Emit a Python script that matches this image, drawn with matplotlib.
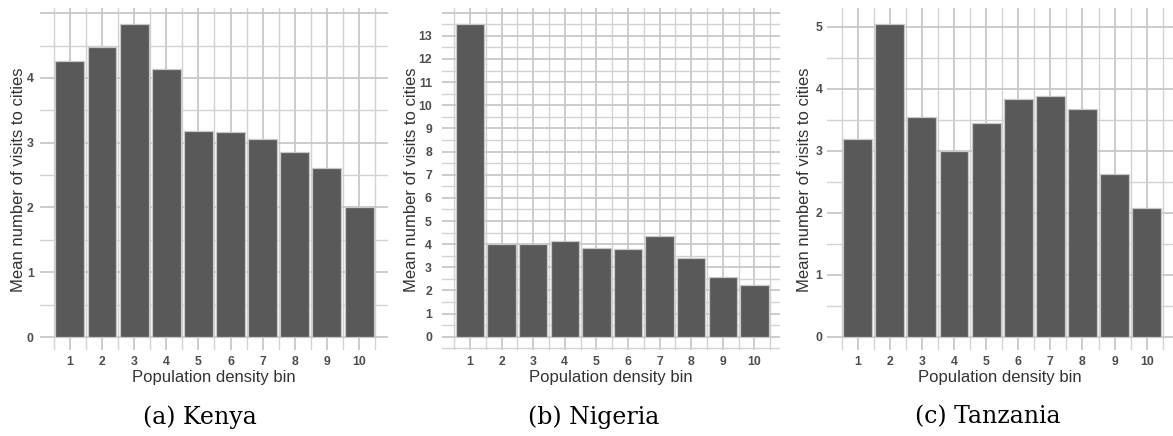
import numpy as np
import matplotlib
matplotlib.use("Agg")
import matplotlib.pyplot as plt

# mean number of visits to cities per population density bin
bins = list(range(1, 11))
kenya = [4.26, 4.48, 4.83, 4.14, 3.18, 3.17, 3.06, 2.86, 2.61, 2.01]
nigeria = [13.51, 4.02, 4.02, 4.12, 3.82, 3.79, 4.36, 3.41, 2.58, 2.23]
tanzania = [3.19, 5.04, 3.55, 2.99, 3.44, 3.84, 3.88, 3.67, 2.62, 2.08]
captions = ["(a) Kenya", "(b) Nigeria", "(c) Tanzania"]

W, H = 1173, 436
fig = plt.figure(figsize=(W / 100, H / 100), dpi=100)

# panel boxes in pixels: left, right, top, bottom
boxes = [(40, 388, 8, 350), (441.7, 780, 8, 350), (826.7, 1173, 8, 350)]
xlims = [(0.07, 10.9), (0.105, 10.81), (0.034, 10.82)]
ylims = [(-0.2, 5.08), (-0.57, 14.2), (-0.21, 5.3)]
ymax_tick = [4, 13, 5]
grid_top = [5, 14, 5]
ypads = [4.5, 7, 3]
ylab_x = [-0.063, -0.089, -0.063]
cap_x = [200, 594, 988]

for i, vals in enumerate([kenya, nigeria, tanzania]):
    l, r, t, b = boxes[i]
    ax = fig.add_axes([l / W, (H - b) / H, (r - l) / W, (b - t) / H])
    ax.set_axisbelow(True)

    # grid: majors at integers, minors at halves
    x0, x1 = xlims[i]
    y0, y1 = ylims[i]
    for x in np.arange(1, 11):
        ax.axvline(x, color="#c8c8c8", lw=1.3, zorder=0)
    for x in np.arange(0.5, 11, 1.0):
        ax.axvline(x, color="#d2d2d2", lw=1.0, zorder=0)
    for y in np.arange(0, grid_top[i] + 1):
        ax.axhline(y, color="#c8c8c8", lw=1.3, zorder=0)
    for y in np.arange(-0.5, grid_top[i], 1.0):
        ax.axhline(y, color="#d2d2d2", lw=1.0, zorder=0)

    ax.bar(bins, vals, width=0.9, color="#595959", edgecolor="#c8c8c8",
           linewidth=0.9, zorder=2)

    ax.set_xlim(x0, x1)
    ax.set_ylim(y0, y1)
    ax.set_xticks(bins)
    ax.set_yticks(range(0, ymax_tick[i] + 1))
    ax.tick_params(length=0, labelsize=8.8, labelcolor="#4d4d4d")
    ax.tick_params(axis="y", pad=ypads[i])
    ax.tick_params(axis="x", pad=4)
    for lab in ax.get_xticklabels() + ax.get_yticklabels():
        lab.set_fontweight("bold")
        lab.set_family("Liberation Sans")
    for s in ax.spines.values():
        s.set_visible(False)

    ax.set_xlabel("Population density bin", fontsize=12, color="#333333",
                  family="Liberation Sans")
    ax.set_ylabel("Mean number of visits to cities", fontsize=12,
                  color="#333333", family="Liberation Sans")
    ax.xaxis.set_label_coords(0.5, -0.079)
    ax.xaxis.label.set_va("center")
    ax.yaxis.set_label_coords(ylab_x[i], 0.497)
    ax.yaxis.label.set_va("center")

    fig.text(cap_x[i] / W, (H - 417) / H, captions[i], ha="center",
             va="center", fontsize=17, family="DejaVu Serif", color="black")

fig.savefig("out.png", dpi=100)
